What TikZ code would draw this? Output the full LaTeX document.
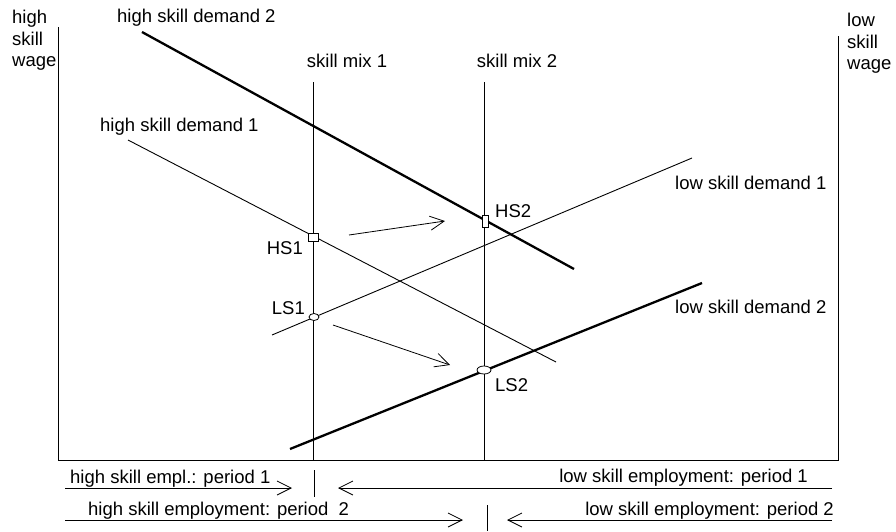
\documentclass[tikz,border=0pt]{standalone}
\usepackage{fontspec}
\setmainfont{Liberation Sans}
\usetikzlibrary{arrows.meta,shapes.geometric}
\begin{document}
\begin{tikzpicture}[x=1pt,y=-1pt,
  thinln/.style={line width=0.9pt},
  thickln/.style={line width=2.3pt},
  lbl/.style={inner sep=0pt, font=\fontsize{18.5}{21.5}\selectfont},
  barb/.style={line width=0.8pt,-{Straight Barb[length=14pt,width=14pt,line width=0.8pt]}},
  sqmark/.style={draw, fill=white, rectangle, inner sep=0pt, line width=0.8pt},
  ovmark/.style={draw, fill=white, ellipse, inner sep=0pt, line width=0.8pt}]
\useasboundingbox (0,0) rectangle (896,531);
% axes
\coordinate (lt) at (58,27);
\coordinate (lb) at (58,460);
\coordinate (rb) at (838,460);
\coordinate (rt) at (838,36);
\draw[thinln] (lt) -- (lb) -- (rb) -- (rt);
% axis labels
\node[lbl, anchor=north west, align=left] (hsw) at (12,10) {high\\skill\\wage};
\node[lbl, anchor=north west, align=left] (lsw) at (847,13) {low\\skill\\wage};
% skill mix lines
\coordinate (m1t) at (313,82);
\coordinate (m1b) at (313,460);
\coordinate (m2t) at (484,82);
\coordinate (m2b) at (484,460);
\draw[thinln] (m1t) -- (m1b);
\draw[thinln] (m2t) -- (m2b);
\node[lbl] (sm1) at (347,61) {skill mix 1};
\node[lbl] (sm2) at (517,61) {skill mix 2};
% demand curves
\coordinate (hd2a) at (142,32);
\coordinate (hd2b) at (574,269);
\draw[thickln] (hd2a) -- (hd2b);
\node[lbl, anchor=west] (hd2l) at (117,18) {high skill demand 2};
\coordinate (hd1a) at (128,140);
\coordinate (hd1b) at (556,362);
\draw[thinln] (hd1a) -- (hd1b);
\node[lbl, anchor=west] (hd1l) at (100,127) {high skill demand 1};
\coordinate (ld1a) at (272,335);
\coordinate (ld1b) at (692,158);
\draw[thinln] (ld1a) -- (ld1b);
\node[lbl, anchor=west] (ld1l) at (675,183) {low skill demand 1};
\coordinate (ld2a) at (290,449);
\coordinate (ld2b) at (702,283);
\draw[thickln] (ld2a) -- (ld2b);
\node[lbl, anchor=west] (ld2l) at (675,307) {low skill demand 2};
% equilibrium markers
\node[sqmark, minimum width=10pt, minimum height=8pt] (hs1) at (313,237) {};
\node[sqmark, minimum width=6pt, minimum height=12pt] (hs2) at (485,221) {};
\node[ovmark, minimum width=10pt, minimum height=7pt] (ls1) at (314,317) {};
\node[ovmark, minimum width=14pt, minimum height=8pt] (ls2) at (484,370) {};
\node[lbl, anchor=east] (hs1l) at (303,248) {HS1};
\node[lbl, anchor=west] (hs2l) at (495,211) {HS2};
\node[lbl, anchor=east] (ls1l) at (305,308) {LS1};
\node[lbl, anchor=west] (ls2l) at (495,385) {LS2};
% shift arrows
\coordinate (a1s) at (349,235);
\coordinate (a1e) at (445,221);
\draw[barb] (a1s) -- (a1e);
\coordinate (a2s) at (333,325);
\coordinate (a2e) at (450,365);
\draw[barb] (a2s) -- (a2e);
% employment arrows, period 1
\coordinate (p1l) at (65,488);
\coordinate (p1m) at (292,488);
\coordinate (p1n) at (338,488);
\coordinate (p1r) at (832,488);
\draw[barb] (p1l) -- (p1m);
\draw[barb] (p1r) -- (p1n);
\coordinate (t1a) at (314,470);
\coordinate (t1b) at (314,497);
\draw[thinln] (t1a) -- (t1b);
\node[lbl, anchor=base west] (e1h) at (70,483) {high skill empl.: period 1};
\node[lbl, anchor=base east] (e1l) at (808,482) {low skill employment: period 1};
% employment arrows, period 2
\coordinate (p2l) at (65,520);
\coordinate (p2m) at (463,520);
\coordinate (p2n) at (507,520);
\coordinate (p2r) at (832,520);
\draw[barb] (p2l) -- (p2m);
\draw[barb] (p2r) -- (p2n);
\coordinate (t2a) at (487,505);
\coordinate (t2b) at (487,531);
\draw[thinln] (t2a) -- (t2b);
\node[lbl, anchor=base west] (e2h) at (88,515) {high skill employment: period\ \ 2};
\node[lbl, anchor=base east] (e2l) at (834,515) {low skill employment: period 2};
\end{tikzpicture}
\end{document}
